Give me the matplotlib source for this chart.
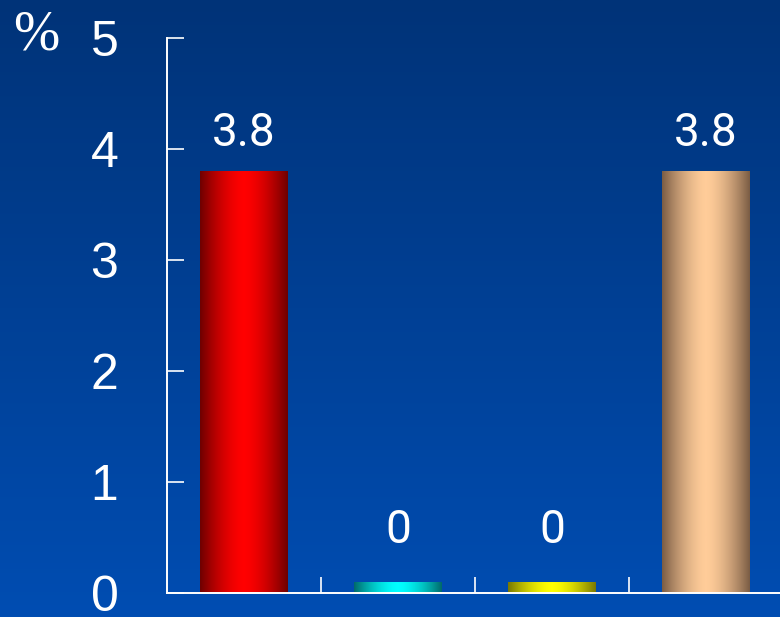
import matplotlib

matplotlib.use("Agg")
import matplotlib.pyplot as plt
import numpy as np
from matplotlib import font_manager
from matplotlib.colors import LinearSegmentedColormap

# Chart data
categories = ["A", "B", "C", "D"]
values = [3.8, 0.0, 0.0, 3.8]
value_labels = ["3.8", "0", "0", "3.8"]
y_ticks = [0, 1, 2, 3, 4, 5]

# Edge / centre colours for the cylinder shading of each bar
bar_edges = ["#6e0000", "#006a6a", "#787800", "#7a5c44"]
bar_centres = ["#ff0000", "#00ffff", "#ffff00", "#ffcc99"]

installed = {f.name for f in font_manager.fontManager.ttflist}
narrow = "Liberation Sans Narrow" if "Liberation Sans Narrow" in installed else "Roboto"

fig = plt.figure(figsize=(7.8, 6.17), dpi=100)

# Blue background gradient over the whole figure
bg = fig.add_axes([0, 0, 1, 1], zorder=-10)
grad = np.linspace(0, 1, 256).reshape(-1, 1)
bg_cmap = LinearSegmentedColormap.from_list("bg", ["#003378", "#004db2"])
bg.imshow(grad, aspect="auto", cmap=bg_cmap, extent=[0, 1, 1, 0])
bg.set_axis_off()

ax = fig.add_axes([167 / 780, 24 / 617, 616 / 780, 555 / 617])
ax.patch.set_alpha(0)

x = np.arange(len(categories))
# zero values still get a thin stub so the bar is visible
heights = np.maximum(values, 0.1)
bars = ax.bar(x, heights, width=0.565, color="none", edgecolor="none")

shade = np.abs(np.linspace(-1, 1, 256)) ** 1.6
for rect, edge, centre in zip(bars, bar_edges, bar_centres):
    cmap = LinearSegmentedColormap.from_list("cyl", [centre, edge])
    x0, y0 = rect.get_x(), rect.get_y()
    w, h = rect.get_width(), rect.get_height()
    im = ax.imshow(shade.reshape(1, -1), aspect="auto", cmap=cmap,
                   extent=[x0, x0 + w, y0, y0 + h], zorder=2)
    im.set_clip_path(rect)

for xi, v, lab in zip(x, values, value_labels):
    ax.text(xi, max(v, 0.22) + 0.23, lab, ha="center", va="baseline",
            color="white", fontsize=33, family=[narrow, "DejaVu Sans"])

ax.set_xlim(-0.5, 3.5)
ax.set_ylim(0, 5)
ax.set_yticks(y_ticks)
ax.set_yticklabels([str(t) for t in y_ticks], family="Liberation Sans",
                   fontsize=36, color="white")
ax.set_xticks([])
ax.set_xticks([0.5, 1.5, 2.5], minor=True)
ax.tick_params(axis="y", direction="in", length=12, width=1.2, color="white", pad=35)
ax.tick_params(axis="x", which="minor", direction="in", length=11.5, width=1.2,
               color="white")

for side in ["top", "right"]:
    ax.spines[side].set_visible(False)
for side in ["left", "bottom"]:
    ax.spines[side].set_color("white")
    ax.spines[side].set_linewidth(1.4)

fig.text(36 / 780, 1 - 36 / 617, "%", ha="center", va="center", color="white",
         fontsize=40, family="Liberation Serif")

fig.savefig("out.png", dpi=100)
